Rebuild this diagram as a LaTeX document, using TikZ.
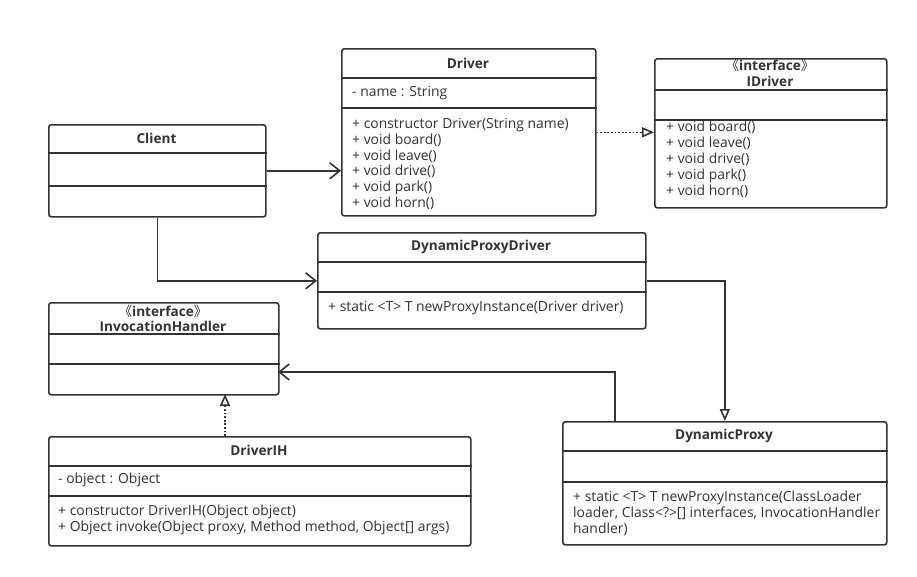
\documentclass[tikz,border=0pt]{standalone}
\usepackage{fontspec}
\setmainfont{Open Sans}
\newfontfamily\cjk{Noto Sans CJK SC}
\usetikzlibrary{arrows.meta}
\definecolor{ink}{HTML}{333333}
\tikzset{
  cls/.style={draw=ink, line width=1.6pt, rounded corners=2.5pt, anchor=north west,
    inner sep=0pt, fill=white},
  sep/.style={draw=ink, line width=1.6pt},
  ttl/.style={inner sep=0pt, text=ink, font=\fontsize{13.6}{15}\selectfont\bfseries},
  mem/.style={inner sep=0pt, anchor=west, align=left, text=ink, font=\fontsize{13.9}{15.9}\selectfont},
  assoc/.style={draw=ink, line width=1.6pt, -{Straight Barb[length=10pt,width=16pt,line width=1.6pt]}},
  inherit/.style={draw=ink, line width=1.6pt, -{Triangle[open,length=12pt,width=10pt,line width=1.6pt]}},
  realize/.style={inherit, dash pattern=on 1.8pt off 1.8pt},
}
\newcommand{\gm}[1]{{\cjk\mdseries #1}}
\begin{document}
\begin{tikzpicture}[x=1pt,y=-1pt]
\useasboundingbox (0,0) rectangle (917,576);

% class boxes
\node[cls, minimum width=217pt, minimum height=92pt] (client) at (48,124) {};
\node[cls, minimum width=254pt, minimum height=167pt] (driver) at (341,48) {};
\node[cls, minimum width=232pt, minimum height=149pt] (idriver) at (654,58) {};
\node[cls, minimum width=328pt, minimum height=96pt] (dpd) at (317,232) {};
\node[cls, minimum width=230pt, minimum height=92pt] (ih) at (48,302) {};
\node[cls, minimum width=422pt, minimum height=109pt] (dih) at (48,436) {};
\node[cls, minimum width=324pt, minimum height=123pt] (dp) at (562,421) {};

% compartment separators
\draw[sep] (client.west |- 0,153) -- (client.east |- 0,153);
\draw[sep] (client.west |- 0,186) -- (client.east |- 0,186);
\draw[sep] (driver.west |- 0,78) -- (driver.east |- 0,78);
\draw[sep] (driver.west |- 0,108) -- (driver.east |- 0,108);
\draw[sep] (idriver.west |- 0,90) -- (idriver.east |- 0,90);
\draw[sep] (idriver.west |- 0,120) -- (idriver.east |- 0,120);
\draw[sep] (dpd.west |- 0,262) -- (dpd.east |- 0,262);
\draw[sep] (dpd.west |- 0,292) -- (dpd.east |- 0,292);
\draw[sep] (ih.west |- 0,334) -- (ih.east |- 0,334);
\draw[sep] (ih.west |- 0,364) -- (ih.east |- 0,364);
\draw[sep] (dih.west |- 0,466) -- (dih.east |- 0,466);
\draw[sep] (dih.west |- 0,496) -- (dih.east |- 0,496);
\draw[sep] (dp.west |- 0,451) -- (dp.east |- 0,451);
\draw[sep] (dp.west |- 0,482) -- (dp.east |- 0,482);

% titles
\node[ttl] (tclient) at (156.5,138) {Client};
\node[ttl] (tdriver) at (468,63) {Driver};
\node[ttl] (sidriver) at (770,65) {\gm{《}interface\gm{》}};
\node[ttl] (tidriver) at (770,81) {IDriver};
\node[ttl] (tdpd) at (481,247) {DynamicProxyDriver};
\node[ttl] (sih) at (163,311) {\gm{《}interface\gm{》}};
\node[ttl] (tih) at (163,326) {InvocationHandler};
\node[ttl] (tdih) at (259,450) {DriverIH};
\node[ttl] (tdp) at (724,436) {DynamicProxy};

% members
\node[mem] (fdriver) at (352,93) {- name : String};
\node[mem] (mdriver) at (352,164) {+ constructor Driver(String name)\\+ void board()\\+ void leave()\\+ void drive()\\+ void park()\\+ void horn()};
\node[mem] (midriver) at (666,159.5) {+ void board()\\+ void leave()\\+ void drive()\\+ void park()\\+ void horn()};
\node[mem] (mdpd) at (328,308) {+ static <T> T newProxyInstance(Driver driver)};
\node[mem] (fdih) at (58,480) {- object : Object};
\node[mem] (mdih) at (58,519.5) {+ constructor DriverIH(Object object)\\+ Object invoke(Object proxy, Method method, Object[] args)};
\node[mem] (mdp) at (573,513) {+ static <T> T newProxyInstance(ClassLoader\\loader, Class<?>[] interfaces, InvocationHandler\\handler)};

% relations
\coordinate (ihin) at (278,372);
\coordinate (dpout) at (615,421);
\coordinate (ihbot) at (225,394);
\coordinate (dihtop) at (225,436);
\draw[assoc] (client.east) -- (driver.west |- client.east);
\draw[realize] (driver.east) -- (idriver.west |- driver.east);
\draw[assoc] (client.south) |- (dpd.west);
\draw[inherit] (dpd.east) -| (dp.north);
\draw[assoc] (dpout) |- (ihin);
\draw[realize] (dihtop) -- (ihbot);
\end{tikzpicture}
\end{document}
